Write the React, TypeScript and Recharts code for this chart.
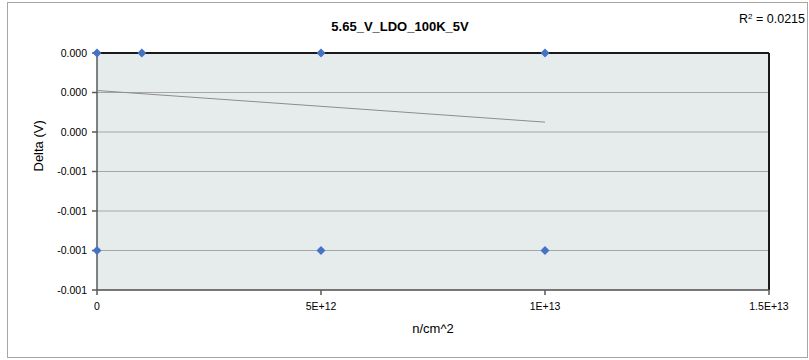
import {
  CartesianGrid,
  ReferenceLine,
  Scatter,
  ScatterChart,
  XAxis,
  YAxis,
} from 'recharts';

const fluence = [0, 0, 1e12, 5e12, 5e12, 1e13, 1e13];
const delta = [0, -0.001, 0, 0, -0.001, 0, -0.001];

const trendX = [0, 1e13];
const trendY = [-0.00019, -0.00035];

const xTicks = [0, 5e12, 1e13, 1.5e13];
const xTickLabels = ['0', '5E+12', '1E+13', '1.5E+13'];
const yTicks = [0, -0.0002, -0.0004, -0.0006, -0.0008, -0.001, -0.0012];

const points = fluence.map((x, i) => ({ x, y: delta[i] }));
const trend = trendX.map((x, i) => ({ x, y: trendY[i] }));

const font = '"Liberation Sans", Arial, sans-serif';

// excel drops the minus sign when the value rounds to zero
const fmtY = (v: number) => {
  const s = Number(v).toFixed(3);
  return s === '-0.000' ? '0.000' : s;
};

const Diamond = (props: any) => {
  const { cx, cy } = props;
  const r = 4.5;
  return (
    <path
      d={`M${cx},${cy - r}L${cx + r},${cy}L${cx},${cy + r}L${cx - r},${cy}Z`}
      fill="#4472c4"
    />
  );
};

export default function App() {
  return (
    <div style={{ position: 'absolute', left: 0, top: 0, width: 809, height: 360, background: '#fff', fontFamily: font }}>
      <div
        style={{
          position: 'absolute',
          left: 7,
          top: 2,
          width: 799,
          height: 354,
          border: '1px solid #a6a6a6',
        }}
      />
      <div
        style={{
          position: 'absolute',
          left: 300,
          width: 200,
          top: 19,
          textAlign: 'center',
          fontWeight: 'bold',
          fontSize: 13,
          color: '#000',
        }}
      >
        5.65_V_LDO_100K_5V
      </div>
      <div style={{ position: 'absolute', right: 4, top: 12, fontSize: 12.5, color: '#000' }}>
        R<sup style={{ fontSize: 8, verticalAlign: 4 }}>2</sup> = 0.0215
      </div>
      <div style={{ position: 'absolute', left: 0, top: 0 }}>
        <ScatterChart width={809} height={360} margin={{ top: 53, right: 40, bottom: 0, left: 0 }}>
          <CartesianGrid vertical={false} stroke="#a6a6a6" fill="#e6ecec" fillOpacity={1} />
          <XAxis
            type="number"
            dataKey="x"
            domain={[0, 1.5e13]}
            ticks={xTicks}
            tickFormatter={(v) => xTickLabels[xTicks.indexOf(v)] ?? ''}
            height={70}
            stroke="#595959"
            strokeWidth={1.5}
            tickSize={5}
            tick={{ fontSize: 10.5, fill: '#000', fontFamily: font, dy: 6 }}
            label={{ value: 'n/cm^2', position: 'insideTop', offset: 34, fontSize: 13, fill: '#000', fontFamily: font }}
          />
          <YAxis
            type="number"
            dataKey="y"
            domain={[-0.0012, 0]}
            ticks={yTicks}
            tickFormatter={fmtY}
            width={97}
            stroke="#595959"
            strokeWidth={1.5}
            tickSize={5}
            tick={{ fontSize: 10.5, fill: '#000', fontFamily: font, dx: -3 }}
            label={{ value: 'Delta (V)', angle: -90, position: 'insideLeft', offset: 38, fontSize: 13, fill: '#000', fontFamily: font }}
          />
          <ReferenceLine y={0} stroke="#1a1a1a" strokeWidth={2} />
          <ReferenceLine x={1.5e13} stroke="#1a1a1a" strokeWidth={2} />
          <Scatter
            data={trend}
            line={{ stroke: '#8c8c8c', strokeWidth: 1 }}
            shape={() => <g />}
            isAnimationActive={false}
          />
          <Scatter data={points} shape={<Diamond />} isAnimationActive={false} />
        </ScatterChart>
      </div>
    </div>
  );
}
